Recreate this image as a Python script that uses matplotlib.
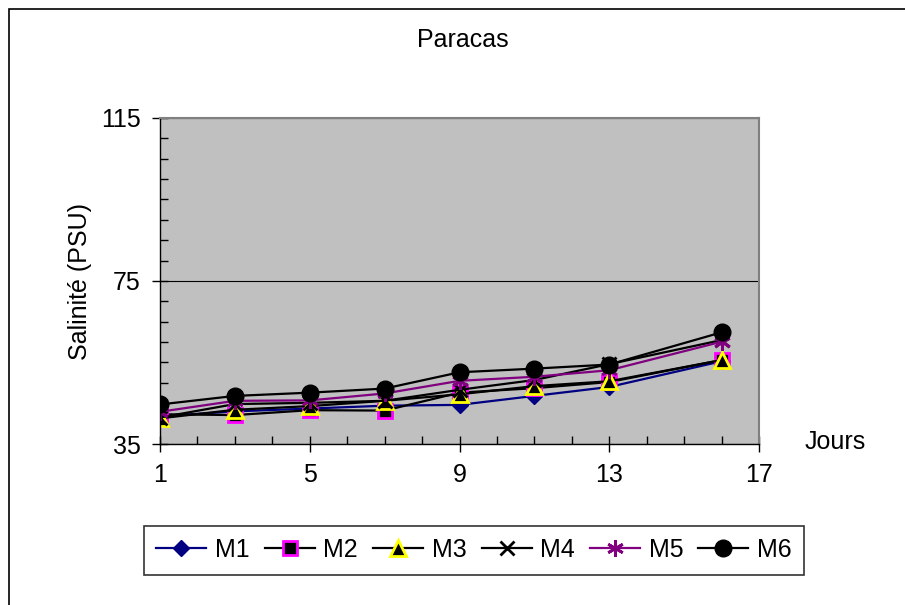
import matplotlib.pyplot as plt
from matplotlib.patches import Rectangle
from matplotlib.ticker import FixedLocator

plt.rcParams['font.family'] = ['Liberation Sans', 'DejaVu Sans']

jours = [1, 3, 5, 7, 9, 11, 13, 16]
m1 = [41.8, 43.0, 43.7, 44.4, 44.6, 46.8, 49.0, 55.3]
m2 = [42.3, 42.1, 43.3, 43.2, 47.6, 48.7, 50.2, 55.6]
m3 = [41.3, 43.4, 44.3, 45.6, 47.2, 49.2, 50.4, 55.6]
m4 = [41.5, 44.8, 45.1, 45.6, 48.3, 50.7, 54.6, 60.5]
m5 = [42.9, 45.6, 45.7, 47.4, 50.5, 51.5, 53.1, 60.1]
m6 = [44.7, 46.8, 47.6, 48.6, 52.6, 53.5, 54.5, 62.4]

x_ticks = [1, 5, 9, 13, 17]
y_ticks = [35, 75, 115]

fig = plt.figure(figsize=(9.05, 6.05), dpi=100)
fig.patches.append(Rectangle((9 / 905, -0.1), 1.1, 1.1 - 9 / 605, transform=fig.transFigure,
                             fill=False, edgecolor='black', linewidth=1.2))

ax = fig.add_axes([160 / 905, 161 / 605, 599 / 905, 326 / 605])
ax.set_facecolor('#C0C0C0')

ax.plot(jours, m1, color='#000080', lw=1.6, marker='D', ms=8, mfc='#000080', mec='#000080', label='M1')
ax.plot(jours, m2, color='black', lw=1.6, marker='s', ms=10, mfc='black', mec='#FF00FF', mew=2, label='M2')
ax.plot(jours, m3, color='black', lw=1.6, marker='^', ms=11, mfc='black', mec='#FFFF00', mew=2, label='M3')
ax.plot(jours, m4, color='black', lw=1.6, marker='x', ms=10, mew=2, label='M4')
ax.plot(jours, m5, color='#800080', lw=1.6, marker=(6, 2, 0), ms=12, mew=2, mec='#800080', label='M5')
ax.plot(jours, m6, color='black', lw=1.6, marker='o', ms=12, mfc='black', mec='black', label='M6')

ax.set_xlim(1, 17)
ax.set_ylim(35, 115)
ax.xaxis.set_major_locator(FixedLocator(x_ticks))
ax.xaxis.set_minor_locator(FixedLocator(range(1, 18)))
ax.yaxis.set_major_locator(FixedLocator(y_ticks))
ax.yaxis.set_minor_locator(FixedLocator(range(35, 116, 5)))
ax.tick_params(which='major', direction='inout', length=12, width=1, labelsize=18, pad=8)
ax.tick_params(which='minor', direction='in', length=6, width=1)
ax.grid(axis='y', which='major', color='black', lw=0.8)

for s in ('top', 'right'):
    ax.spines[s].set_color('#808080')
    ax.spines[s].set_linewidth(1.5)
for s in ('left', 'bottom'):
    ax.spines[s].set_color('black')
    ax.spines[s].set_linewidth(1)

ax.set_ylabel('Salinité (PSU)', fontsize=18, labelpad=6)
fig.text(463 / 905, 1 - 40 / 605, 'Paracas', fontsize=18, ha='center', va='center')
fig.text(835 / 905, 1 - 442 / 605, 'Jours', fontsize=18, ha='center', va='center')

leg = fig.legend(loc='center', bbox_to_anchor=(474 / 905, 1 - 550 / 605), ncol=6, fontsize=18,
                 frameon=True, fancybox=False, edgecolor='black', handlelength=2.0,
                 handletextpad=0.35, columnspacing=0.6, borderpad=0.5)
leg.get_frame().set_linewidth(1.2)

fig.savefig('out.png', dpi=100)
